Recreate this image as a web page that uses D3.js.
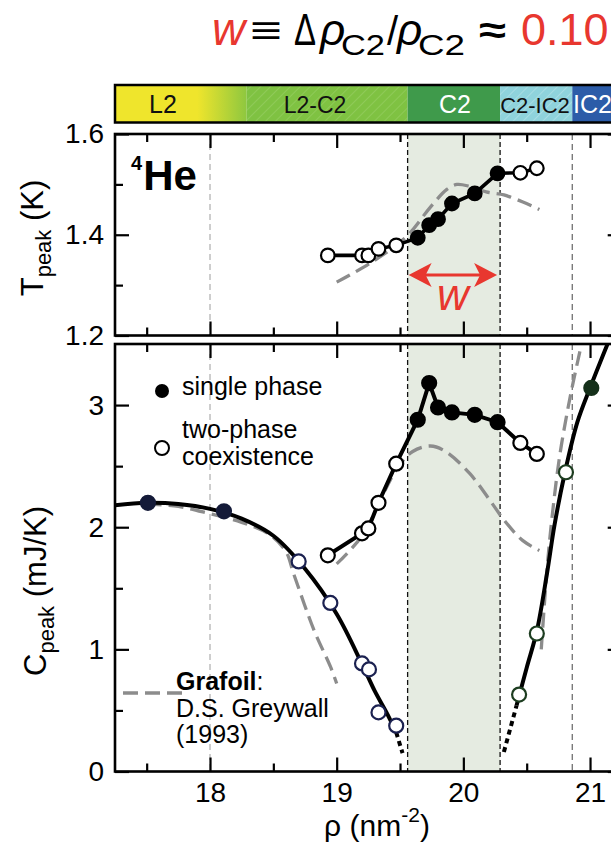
<!DOCTYPE html>
<html>
<head>
<meta charset="utf-8">
<script src="https://cdn.jsdelivr.net/npm/d3@7/dist/d3.min.js"></script>
<style>
  html, body { margin: 0; padding: 0; background: #ffffff; }
  svg { display: block; }
  text { font-family: "Liberation Sans", Arial, Helvetica, sans-serif; }
</style>
</head>
<body>
<svg id="fig" width="611" height="845"></svg>
<script>
// ---------------- data ----------------
// Peak positions across the C2 (commensurate) phase, density in nm^-2
const rhoMid   = [18.93, 19.20, 19.25, 19.33, 19.47, 19.64, 19.73, 19.80, 19.91, 20.09, 20.27, 20.45, 20.58];
const tPeakMid = [1.359, 1.359, 1.359, 1.372, 1.379, 1.394, 1.419, 1.431, 1.462, 1.482, 1.522, 1.523, 1.532];
const cPeakMid = [1.77, 1.95, 1.99, 2.20, 2.52, 2.88, 3.18, 2.98, 2.94, 2.92, 2.86, 2.69, 2.60];
const phaseMid = [0, 0, 0, 0, 0, 1, 1, 1, 1, 1, 1, 0, 0];   // 1 = single phase, 0 = two-phase

// L2 side peaks
const rhoL2   = [17.51, 18.11, 18.70, 18.95, 19.20, 19.255, 19.33, 19.47];
const cPeakL2 = [2.20, 2.13, 1.72, 1.38, 0.885, 0.836, 0.484, 0.375];
const phaseL2 = [1, 1, 0, 0, 0, 0, 0, 0];

// IC2 side peaks
const rhoIC2   = [20.44, 20.58, 20.81, 21.01];
const cPeakIC2 = [0.63, 1.13, 2.45, 3.14];
const phaseIC2 = [0, 0, 0, 1];

// guide-to-the-eye curves through the L2 and IC2 peaks, [rho, C]
const fitL2 = [[17.25, 2.18], [17.5, 2.20], [17.75, 2.19], [18.0, 2.15], [18.25, 2.07], [18.5, 1.93],
               [18.75, 1.66], [19.0, 1.29], [19.2, 0.88], [19.3, 0.66], [19.4, 0.47], [19.47, 0.32]];
const fitL2Ext = [[19.47, 0.32], [19.52, 0.15]];
const fitIC2 = [[20.42, 0.54], [20.5, 0.85], [20.58, 1.15], [20.66, 1.62], [20.72, 2.02], [20.80, 2.44],
                [20.90, 2.86], [21.0, 3.14], [21.15, 3.53]];
const fitIC2Ext = [[20.32, 0.16], [20.42, 0.54]];

// Grafoil data (D.S. Greywall 1993)
const grafoilT = [[19.0, 1.306], [19.26, 1.343], [19.55, 1.396], [19.74, 1.455], [19.87, 1.490], [19.95, 1.500],
                  [20.05, 1.496], [20.18, 1.485], [20.32, 1.479], [20.47, 1.465], [20.6, 1.450]];
const grafoilCMid = [[19.0, 1.70], [19.2, 1.93], [19.47, 2.47], [19.6, 2.62], [19.74, 2.665], [19.86, 2.62],
                     [20.05, 2.44], [20.21, 2.22], [20.32, 2.06], [20.47, 1.89], [20.6, 1.81]];
const grafoilCL2 = [[17.5, 2.19], [17.75, 2.17], [18.0, 2.11], [18.25, 2.04], [18.47, 1.94], [18.6, 1.80],
                    [18.66, 1.62], [18.82, 1.16], [18.95, 0.86], [19.0, 0.72]];
const grafoilCIC2 = [[20.615, 1.0], [20.66, 1.65], [20.70, 2.08], [20.76, 2.58], [20.84, 3.05], [20.92, 3.44]];

// phases along the density axis
const phaseNames  = ["L2", "L2-C2", "C2", "C2-IC2", "IC2"];
const phaseBounds = [17.25, 18.29, 19.56, 20.29, 20.86, 21.25];
const c2Range     = [19.56, 20.29];
const guideRho    = [18.0, 19.56, 20.29, 20.86];

// axis ticks
const xMajor = [18, 19, 20, 21], xMinor = [17.5, 18.5, 19.5, 20.5];
const tMajor = [1.2, 1.4, 1.6],  tMinor = [1.3, 1.5];
const cMajor = [0, 1, 2, 3],     cMinor = [0.5, 1.5, 2.5];

// ---------------- layout ----------------
const FONT = '"Liberation Sans", Arial, Helvetica, sans-serif';
const SERIF = '"Liberation Serif", "Times New Roman", serif';
const RED = "#e8372f";
const svg = d3.select("#fig");

const x  = d3.scaleLinear().domain([17.25, 21.25]).range([115, 621.7]);
const yT = d3.scaleLinear().domain([1.2, 1.6]).range([335.5, 134]);
const yC = d3.scaleLinear().domain([0, 3.5]).range([771.5, 344]);

const panelT = { y0: 134, y1: 335.5 }, panelB = { y0: 344, y1: 771.5 };
const X0 = x.range()[0], X1 = x.range()[1];

const defs = svg.append("defs");
[["clipTop", panelT], ["clipBot", panelB]].forEach(([id, p]) => {
  defs.append("clipPath").attr("id", id).append("rect")
    .attr("x", X0).attr("y", p.y0).attr("width", X1 - X0).attr("height", p.y1 - p.y0);
});

// ---------------- title: w = Δρ_C2 / ρ_C2 ≈ 0.10 ----------------
const title = svg.append("g").attr("font-size", 44);
title.append("text").attr("x", 212).attr("y", 45).attr("font-family", SERIF).attr("font-style", "italic")
  .attr("font-size", 46).attr("fill", RED).text("w");
title.append("text").attr("x", 250).attr("y", 44).attr("font-family", "DejaVu Sans").attr("font-size", 40)
  .attr("textLength", 32).attr("lengthAdjust", "spacingAndGlyphs").text("≡");
title.append("text").attr("x", 294).attr("y", 45).attr("font-family", FONT).attr("font-size", 44)
  .attr("textLength", 22).attr("lengthAdjust", "spacingAndGlyphs").text("Δ");
title.append("text").attr("x", 320).attr("y", 45).attr("font-family", SERIF).attr("font-style", "italic").text("ρ");
title.append("text").attr("x", 341).attr("y", 55).attr("font-size", 30)
  .attr("textLength", 44).attr("lengthAdjust", "spacingAndGlyphs").text("C2");
title.append("text").attr("x", 387).attr("y", 45).attr("font-size", 40).text("/");
title.append("text").attr("x", 397).attr("y", 45).attr("font-family", SERIF).attr("font-style", "italic").text("ρ");
title.append("text").attr("x", 418).attr("y", 55).attr("font-size", 30)
  .attr("textLength", 47).attr("lengthAdjust", "spacingAndGlyphs").text("C2");
title.append("text").attr("x", 479).attr("y", 43).attr("font-family", "DejaVu Sans").attr("font-weight", "bold")
  .attr("font-size", 38).attr("textLength", 27).attr("lengthAdjust", "spacingAndGlyphs").text("≈");
title.append("text").attr("x", 521).attr("y", 45).attr("fill", RED).attr("font-size", 45).text("0.10");

// ---------------- phase bar ----------------
const barY0 = 85, barY1 = 122.5;
const grad = defs.append("linearGradient").attr("id", "l2grad").attr("gradientUnits", "userSpaceOnUse")
  .attr("x1", x(17.25)).attr("x2", x(phaseBounds[1])).attr("y1", 0).attr("y2", 0);
const gradStart = (x(17.9) - x(17.25)) / (x(phaseBounds[1]) - x(17.25));
grad.append("stop").attr("offset", 0).attr("stop-color", "#efe52c");
grad.append("stop").attr("offset", gradStart).attr("stop-color", "#efe52c");
grad.append("stop").attr("offset", 1).attr("stop-color", "#8ec73f");

function hatch(id, bg, line) {
  const p = defs.append("pattern").attr("id", id).attr("patternUnits", "userSpaceOnUse")
    .attr("width", 7).attr("height", 7).attr("patternTransform", "rotate(45)");
  p.append("rect").attr("width", 7).attr("height", 7).attr("fill", bg);
  p.append("line").attr("x1", 0).attr("y1", 0).attr("x2", 0).attr("y2", 7)
    .attr("stroke", line).attr("stroke-width", 1.4);
}
hatch("hatchL2C2", "#7fc242", "#96ce62");
hatch("hatchC2IC2", "#8fd3dc", "#b3e2e8");

const phaseFill = ["url(#l2grad)", "url(#hatchL2C2)", "#3f9a4b", "url(#hatchC2IC2)", "#2c5ca8"];
const phaseText = ["#111", "#111", "#ffffff", "#111", "#ffffff"];
const bar = svg.append("g");
bar.selectAll("rect.ph").data(phaseNames).join("rect").attr("class", "ph")
  .attr("x", (d, i) => x(phaseBounds[i]))
  .attr("width", (d, i) => x(phaseBounds[i + 1]) - x(phaseBounds[i]) + (i === 4 ? 30 : 0))
  .attr("y", barY0).attr("height", barY1 - barY0)
  .attr("fill", (d, i) => phaseFill[i]);
const labelX = [163, 315, 455, 535, 573];
const labelAnchor = ["middle", "middle", "middle", "middle", "start"];
const labelSize = [25, 23, 25, 22, 25];
bar.selectAll("text").data(phaseNames).join("text")
  .attr("x", (d, i) => labelX[i]).attr("y", 113)
  .attr("text-anchor", (d, i) => labelAnchor[i])
  .attr("font-size", (d, i) => labelSize[i])
  .attr("fill", (d, i) => phaseText[i]).text(d => d);
bar.append("rect").attr("x", X0).attr("y", barY0).attr("width", 560).attr("height", barY1 - barY0)
  .attr("fill", "none").attr("stroke", "#000").attr("stroke-width", 2.5);

// ---------------- panel backgrounds and guides ----------------
[panelT, panelB].forEach(p => {
  svg.append("rect").attr("x", x(c2Range[0])).attr("y", p.y0)
    .attr("width", x(c2Range[1]) - x(c2Range[0])).attr("height", p.y1 - p.y0)
    .attr("fill", "#e5ebe1");
  guideRho.forEach((r, i) => {
    const black = (i === 1 || i === 2);
    svg.append("line").attr("x1", x(r)).attr("x2", x(r)).attr("y1", p.y0).attr("y2", p.y1)
      .attr("stroke", black ? "#111" : (i === 0 ? "#a6a6a6" : "#7a7a7a"))
      .attr("stroke-width", black ? 1.3 : (i === 0 ? 1.1 : 1.4))
      .attr("stroke-dasharray", black ? "5,3" : "6,4");
  });
});

const lineT = d3.line().x(d => x(d[0])).y(d => yT(d[1]));
const lineC = d3.line().x(d => x(d[0])).y(d => yC(d[1]));
const smoothC = d3.line().x(d => x(d[0])).y(d => yC(d[1])).curve(d3.curveCatmullRom.alpha(0.5));
const smoothT = d3.line().x(d => x(d[0])).y(d => yT(d[1])).curve(d3.curveCatmullRom.alpha(0.5));

const gTop = svg.append("g").attr("clip-path", "url(#clipTop)");
const gBot = svg.append("g").attr("clip-path", "url(#clipBot)");

const GREY = "#8c8c8c";
function greyPath(g, gen, pts) {
  g.append("path").attr("d", gen(pts)).attr("fill", "none").attr("stroke", GREY)
    .attr("stroke-width", 3.3).attr("stroke-dasharray", "15,7");
}
greyPath(gTop, smoothT, grafoilT);
greyPath(gBot, smoothC, grafoilCMid);
greyPath(gBot, smoothC, grafoilCL2);
greyPath(gBot, smoothC, grafoilCIC2);

// black guide curves
gBot.append("path").attr("d", smoothC(fitL2)).attr("fill", "none").attr("stroke", "#000").attr("stroke-width", 4);
gBot.append("path").attr("d", smoothC(fitIC2)).attr("fill", "none").attr("stroke", "#000").attr("stroke-width", 4);
[fitL2Ext, fitIC2Ext].forEach(seg => {
  gBot.append("path").attr("d", lineC(seg)).attr("fill", "none").attr("stroke", "#000")
    .attr("stroke-width", 4).attr("stroke-dasharray", "5,4");
});

// connecting lines of the C2-region series
const midT = rhoMid.map((r, i) => [r, tPeakMid[i]]);
const midC = rhoMid.map((r, i) => [r, cPeakMid[i]]);
gTop.append("path").attr("d", lineT(midT)).attr("fill", "none").attr("stroke", "#000").attr("stroke-width", 3.6);
gBot.append("path").attr("d", lineC(midC)).attr("fill", "none").attr("stroke", "#000").attr("stroke-width", 4);

// markers
function markers(g, xs, ys, phases, yScale, fillDark, strokeCol, r) {
  g.selectAll(null).data(xs.map((v, i) => ({ r: v, v: ys[i], p: phases[i] }))).join("circle")
    .attr("cx", d => x(d.r)).attr("cy", d => yScale(d.v)).attr("r", r)
    .attr("fill", d => d.p ? fillDark : "#fff")
    .attr("stroke", d => d.p ? fillDark : strokeCol).attr("stroke-width", 2.2);
}
markers(gTop, rhoMid, tPeakMid, phaseMid, yT, "#000", "#000", 6.8);
markers(gBot, rhoMid, cPeakMid, phaseMid, yC, "#000", "#000", 7);
markers(gBot, rhoL2, cPeakL2, phaseL2, yC, "#141a38", "#1b2150", 7);
markers(gBot, rhoIC2, cPeakIC2, phaseIC2, yC, "#15301a", "#1d3d20", 7);

// ---------------- w arrow ----------------
const ax0 = x(c2Range[0]) + 1, ax1 = x(c2Range[1]) - 3, ay = 275;
svg.append("line").attr("x1", ax0 + 14).attr("x2", ax1 - 14).attr("y1", ay).attr("y2", ay)
  .attr("stroke", RED).attr("stroke-width", 3.2);
svg.append("path").attr("fill", RED)
  .attr("d", `M${ax0},${ay} L${ax0 + 23},${ay - 12} L${ax0 + 17},${ay} L${ax0 + 23},${ay + 12} Z`);
svg.append("path").attr("fill", RED)
  .attr("d", `M${ax1},${ay} L${ax1 - 23},${ay - 12} L${ax1 - 17},${ay} L${ax1 - 23},${ay + 12} Z`);
svg.append("text").attr("x", (ax0 + ax1) / 2).attr("y", 310).attr("text-anchor", "middle")
  .attr("font-family", SERIF).attr("font-style", "italic").attr("font-size", 44).attr("fill", RED).text("w");

// ---------------- frames and axes ----------------
[panelT, panelB].forEach(p => {
  svg.append("rect").attr("x", X0).attr("y", p.y0).attr("width", X1 - X0).attr("height", p.y1 - p.y0)
    .attr("fill", "none").attr("stroke", "#000").attr("stroke-width", 2.6);
});

function axis(gen, scale, values, size, tx, ty, fmt) {
  const a = gen(scale).tickValues(values).tickSizeInner(-size).tickSizeOuter(0).tickPadding(11)
    .tickFormat(fmt || (() => ""));
  const g = svg.append("g").attr("transform", `translate(${tx},${ty})`).call(a)
    .attr("font-family", FONT).attr("font-size", 28);
  g.select(".domain").remove();
  g.selectAll(".tick line").attr("stroke", "#000").attr("stroke-width", 2.2);
  g.selectAll(".tick text").attr("fill", "#000");
  return g;
}
// x ticks on all four horizontal edges
[[panelT.y0, d3.axisTop], [panelT.y1, d3.axisBottom], [panelB.y0, d3.axisTop], [panelB.y1, d3.axisBottom]].forEach(([yy, gen], k) => {
  axis(gen, x, xMajor, 14, 0, yy, k === 3 ? d3.format("d") : null);
  axis(gen, x, xMinor, 8, 0, yy);
});
// y ticks
axis(d3.axisLeft, yT, tMajor, 14, X0, 0, d3.format(".1f"));
axis(d3.axisLeft, yT, tMinor, 8, X0, 0);
axis(d3.axisRight, yT, tMajor, 14, X1, 0);
axis(d3.axisRight, yT, tMinor, 8, X1, 0);
axis(d3.axisLeft, yC, cMajor, 14, X0, 0, d3.format("d"));
axis(d3.axisLeft, yC, cMinor, 8, X0, 0);
axis(d3.axisRight, yC, cMajor, 14, X1, 0);
axis(d3.axisRight, yC, cMinor, 8, X1, 0);

// ---------------- axis titles ----------------
const tTitle = svg.append("text").attr("transform", "translate(43,238) rotate(-90)")
  .attr("text-anchor", "middle").attr("font-size", 31);
tTitle.append("tspan").text("T");
tTitle.append("tspan").attr("font-size", 22).attr("dy", 8).text("peak");
tTitle.append("tspan").attr("dy", -8).text(" (K)");

const cTitle = svg.append("text").attr("transform", "translate(46,591) rotate(-90)")
  .attr("text-anchor", "middle").attr("font-size", 31);
cTitle.append("tspan").text("C");
cTitle.append("tspan").attr("font-size", 22).attr("dy", 8).text("peak");
cTitle.append("tspan").attr("dy", -8).text(" (mJ/K)");

const xTitle = svg.append("text").attr("x", 377).attr("y", 836).attr("text-anchor", "middle").attr("font-size", 30);
xTitle.append("tspan").text("ρ (nm");
xTitle.append("tspan").attr("font-size", 21).attr("dy", -14).text("-2");
xTitle.append("tspan").attr("dy", 14).text(")");

// ---------------- annotations ----------------
const he = svg.append("text").attr("x", 131).attr("y", 190).attr("font-weight", "bold");
he.append("tspan").attr("font-size", 20).attr("dy", -20).text("4");
he.append("tspan").attr("font-size", 42).attr("dy", 20).attr("dx", 1).text("He");

// legend
svg.append("circle").attr("cx", 162).attr("cy", 391).attr("r", 7).attr("fill", "#000");
svg.append("circle").attr("cx", 162).attr("cy", 448).attr("r", 7).attr("fill", "#fff")
  .attr("stroke", "#000").attr("stroke-width", 2);
svg.append("text").attr("x", 182).attr("y", 395).attr("font-size", 25).text("single phase");
svg.append("text").attr("x", 182).attr("y", 438).attr("font-size", 25).text("two-phase");
svg.append("text").attr("x", 182).attr("y", 465).attr("font-size", 25).text("coexistence");

svg.append("line").attr("x1", 123).attr("x2", 184).attr("y1", 693).attr("y2", 693)
  .attr("stroke", GREY).attr("stroke-width", 3.3).attr("stroke-dasharray", "15,7");
const gf = svg.append("text").attr("x", 176).attr("y", 690).attr("font-size", 25);
gf.append("tspan").attr("font-weight", "bold").text("Grafoil");
gf.append("tspan").text(":");
svg.append("text").attr("x", 176).attr("y", 717).attr("font-size", 25).text("D.S. Greywall");
svg.append("text").attr("x", 176).attr("y", 743).attr("font-size", 25).text("(1993)");
</script>
</body>
</html>
